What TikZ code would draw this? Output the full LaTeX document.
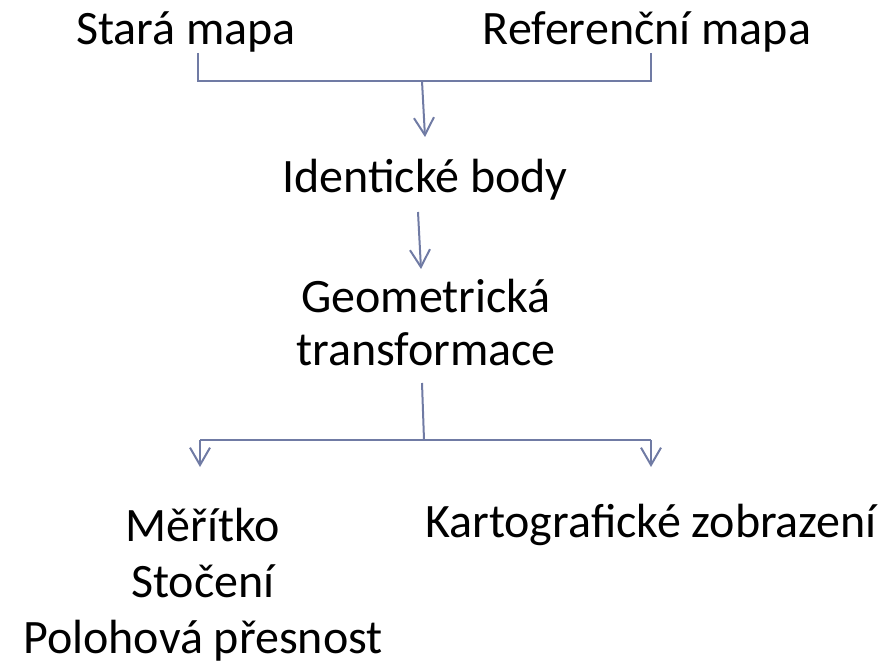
\documentclass[tikz,border=0pt]{standalone}
\usepackage{fontspec}
\setmainfont{Carlito}
\usepackage{xcolor}
\usetikzlibrary{arrows.meta}
\definecolor{linegray}{RGB}{112,123,164}

\begin{document}
\begin{tikzpicture}[x=0.75pt,y=0.75pt,yscale=-1,xscale=1,
    conn/.style={draw=linegray, line width=1.5pt},
    arr/.style={-{Straight Barb[length=13pt,width=15pt,line width=1.5pt]}},
    txt/.style={inner sep=0pt, font=\fontsize{36}{40}\selectfont},
    txtlist/.style={inner sep=0pt, font=\fontsize{36}{42}\selectfont, align=center}]
    \path (0,0) rectangle (896,666); %set diagram to the full slide size

    % Text Node
    \node [txt, anchor=base] (stara) at (186,45) {Stará mapa};
    % Text Node
    \node [txt, anchor=base] (referencni) at (647,45) {Referenční mapa};
    % Text Node
    \node [txt, anchor=base] (identicke) at (425,193) {Identické body};
    % Text Node (base = last line)
    \node [txt, anchor=base, align=center] (geometricka) at (426,366) {Geometrická\\transformace};
    % Text Node
    \node [txt, anchor=base] (kartograficke) at (651,537) {Kartografické zobrazení};
    % Text Node (base = last line)
    \node [txtlist, anchor=base] (meritko) at (203,653) {Měřítko\\Stočení\\Polohová přesnost};

    %Joints and arrow ends
    \coordinate (topl) at (198,81);
    \coordinate (topr) at (651,81);
    \coordinate (topm) at (422,81);
    \coordinate (identin) at (425,137);
    \coordinate (identout) at (418,212);
    \coordinate (geomin) at (421,269);
    \coordinate (geomout) at (422,383);
    \coordinate (botl) at (200,440);
    \coordinate (botr) at (651,440);
    \coordinate (botm) at (424,440);
    \coordinate (tipl) at (200,467);
    \coordinate (tipr) at (651,467);

    %Straight Lines
    \draw [conn] (stara.south -| topl) -- (topl) -- (topr) -- (referencni.south -| topr);
    \draw [conn, arr] (topm) -- (identin);
    \draw [conn, arr] (identout) -- (geomin);
    \draw [conn] (geomout) -- (botm);
    \draw [conn] (botl) -- (botr);
    \draw [conn, arr] (botl) -- (tipl);
    \draw [conn, arr] (botr) -- (tipr);

\end{tikzpicture}
\end{document}
